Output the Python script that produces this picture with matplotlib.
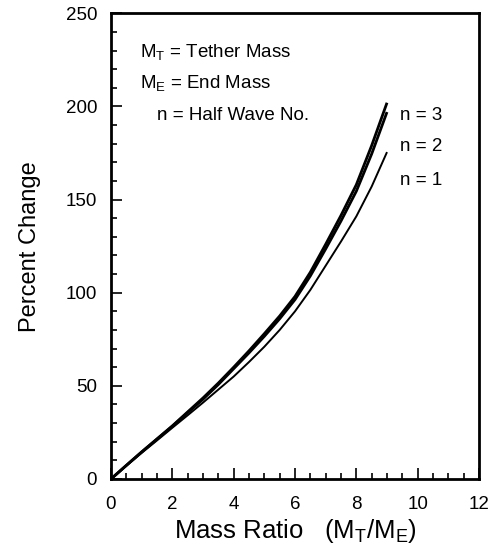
import matplotlib
matplotlib.use("Agg")
import matplotlib.pyplot as plt
from matplotlib.ticker import MultipleLocator

plt.rcParams['font.family'] = ['Liberation Sans', 'DejaVu Sans']
plt.rcParams['mathtext.default'] = 'regular'

# Mass ratio M_T/M_E
mass_ratio = [0, 0.5, 1, 1.5, 2, 2.5, 3, 3.5, 4, 4.5, 5, 5.5, 6, 6.5, 7, 7.5, 8, 8.5, 9]
# Percent change for each half wave number
pct_n3 = [0, 7.3, 14.5, 21.5, 28.5, 36, 43.5, 51.5, 60, 68.8, 78, 87.5, 98, 111, 126, 141.5, 158, 179, 202]
pct_n2 = [0, 7.3, 14.5, 21.4, 28.3, 35.6, 42.8, 50.7, 59.2, 67.7, 76.6, 86, 96.3, 109, 123.5, 138.5, 154.5, 174.5, 197]
pct_n1 = [0, 7.1, 14, 20.7, 27.5, 34.2, 41, 48, 55, 62.8, 71, 80, 90, 101.5, 114.5, 127.5, 141, 157, 175.5]

curve_labels = ["n = 3", "n = 2", "n = 1"]
curve_label_y = [195.3, 178.6, 160.4]

fig = plt.figure(figsize=(4.97, 5.5), dpi=100)
ax = fig.add_axes([0.2233, 0.1291, 0.7405, 0.8467])

ax.plot(mass_ratio, pct_n3, color='black', lw=2.0, solid_capstyle='butt')
ax.plot(mass_ratio, pct_n2, color='black', lw=2.0, solid_capstyle='butt')
ax.plot(mass_ratio, pct_n1, color='black', lw=1.4, solid_capstyle='butt')

ax.set_xlim(0, 12)
ax.set_ylim(0, 250)
ax.xaxis.set_major_locator(MultipleLocator(2))
ax.xaxis.set_minor_locator(MultipleLocator(0.5))
ax.yaxis.set_major_locator(MultipleLocator(50))
ax.yaxis.set_minor_locator(MultipleLocator(10))

for s in ax.spines.values():
    s.set_linewidth(2)

ax.tick_params(which='both', direction='in', top=False, right=False, width=1.2)
ax.tick_params(which='major', length=8, labelsize=13.5)
ax.tick_params(axis='x', which='major', pad=12)
ax.tick_params(axis='y', which='major', pad=10)
ax.tick_params(which='minor', length=4)

ax.set_xlabel('Mass Ratio   (M$_T$/M$_E$)', fontsize=18.5, labelpad=3)
ax.set_ylabel('Percent Change', fontsize=17, labelpad=18)

ax.text(0.95, 229, 'M$_T$ = Tether Mass', fontsize=13.5, va='center')
ax.text(0.95, 212.4, 'M$_E$ = End Mass', fontsize=13.5, va='center')
ax.text(1.5, 195.3, 'n = Half Wave No.', fontsize=13.5, va='center')

for lab, yv in zip(curve_labels, curve_label_y):
    ax.text(9.42, yv, lab, fontsize=13.5, va='center')

fig.savefig('out.png', dpi=100)
